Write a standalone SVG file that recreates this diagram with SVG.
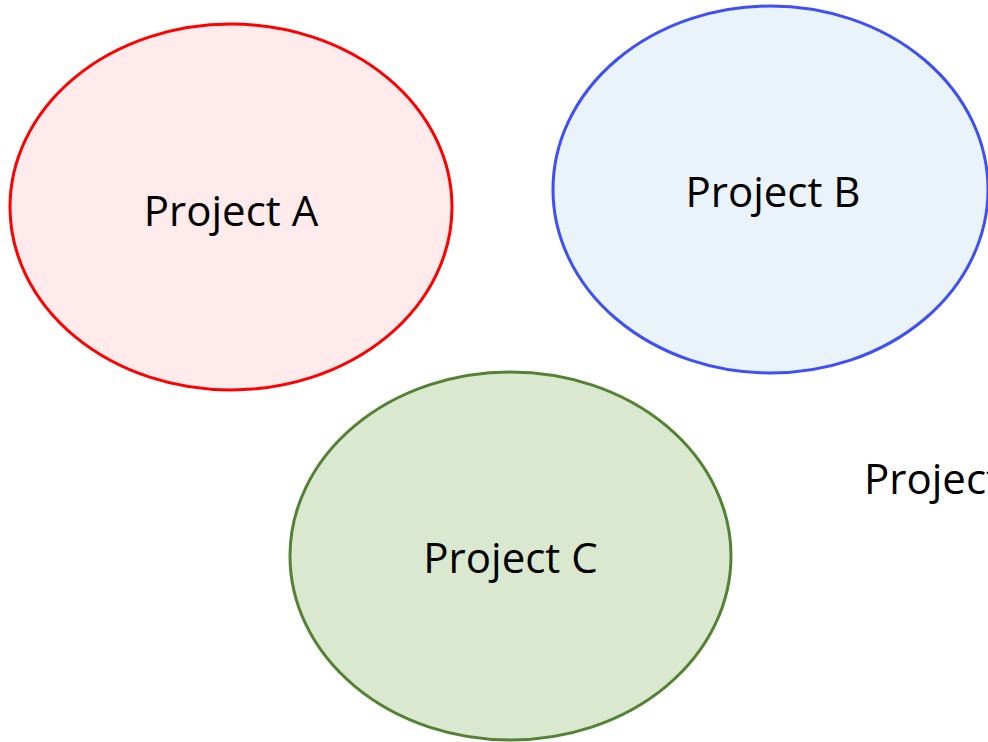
<svg xmlns="http://www.w3.org/2000/svg" width="988" height="742" viewBox="0 0 988 742">
<style>
.lbl{font-family:"Open Sans","Liberation Sans",sans-serif;font-size:42px;fill:#000}
.n ellipse{stroke-width:3}
</style>
<rect width="988" height="742" fill="#fff"/>
<g id="connectors"/>
<g id="projectA" class="n">
<ellipse cx="231" cy="207" rx="221" ry="183" fill="#FFEBEB" stroke="#FF0000"/>
<text class="lbl" x="231" y="226" text-anchor="middle">Project A</text>
</g>
<g id="projectB" class="n">
<ellipse cx="770.5" cy="189.5" rx="217.5" ry="183.5" fill="#EAF2FA" stroke="#3D4FF5"/>
<text class="lbl" x="773" y="207" text-anchor="middle">Project B</text>
</g>
<g id="projectC" class="n">
<ellipse cx="510.5" cy="556" rx="220.5" ry="184" fill="#D9E8CF" stroke="#548235"/>
<text class="lbl" x="510.5" y="573" text-anchor="middle">Project C</text>
</g>
<g id="projectD">
<text class="lbl" x="864" y="494">Project</text>
</g>
</svg>
